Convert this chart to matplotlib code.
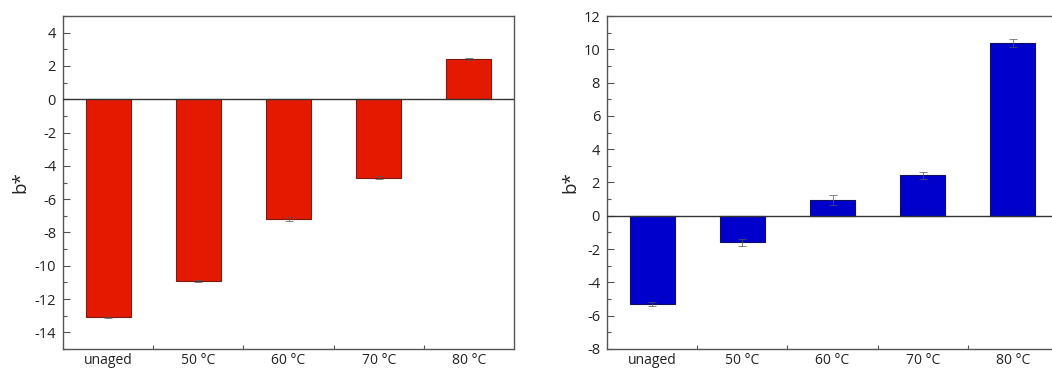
import matplotlib
matplotlib.use("Agg")
import matplotlib.pyplot as plt
from matplotlib.ticker import MultipleLocator, FixedLocator
import numpy as np

plt.rcParams['font.family'] = ['Open Sans', 'DejaVu Sans']
plt.rcParams['axes.unicode_minus'] = False

categories = ["unaged", "50 °C", "60 °C", "70 °C", "80 °C"]

left_values = [-13.1, -10.9, -7.2, -4.7, 2.4]
left_errors = [0.05, 0.05, 0.1, 0.1, 0.05]

right_values = [-5.3, -1.6, 0.95, 2.43, 10.4]
right_errors = [0.1, 0.2, 0.3, 0.2, 0.24]

W, H = 1052, 370
fig = plt.figure(figsize=(W / 100, H / 100), dpi=100)

spine_color = "#555555"


def panel(rect, values, errors, color, edge, ylim, ylabel_x):
    ax = fig.add_axes(rect)
    x = np.arange(len(categories))
    ax.bar(x, values, width=0.5, color=color, edgecolor=edge, linewidth=0.8,
           yerr=errors, ecolor="#555555", error_kw=dict(elinewidth=0.5, capsize=3, capthick=0.5),
           zorder=2)
    ax.axhline(0, color="#333333", linewidth=1.0, zorder=3)
    ax.set_xlim(-0.5, len(categories) - 0.5)
    ax.set_ylim(*ylim)
    ax.set_xticks(x)
    ax.set_xticklabels(categories)
    ax.xaxis.set_minor_locator(FixedLocator(x[:-1] + 0.5))
    ax.yaxis.set_major_locator(MultipleLocator(2))
    ax.yaxis.set_minor_locator(MultipleLocator(1))
    ax.tick_params(axis="x", which="major", length=0, pad=3, labelsize=10, colors="#222222")
    ax.tick_params(axis="x", which="minor", direction="in", length=3, width=0.8, color=spine_color)
    ax.tick_params(axis="y", which="major", direction="in", length=5, width=0.8,
                   color=spine_color, labelsize=10.5, labelcolor="#222222", pad=5)
    ax.tick_params(axis="y", which="minor", direction="in", length=3, width=0.8, color=spine_color)
    for s in ax.spines.values():
        s.set_color(spine_color)
        s.set_linewidth(1.0)
    ax.set_ylabel("b*", fontsize=13.5, color="#222222")
    ax.yaxis.set_label_coords(ylabel_x, 0.5)
    return ax


ax_w = 451 / W
ax_b = 21 / H
ax_h = 333 / H

panel([63 / W, ax_b, ax_w, ax_h], left_values, left_errors,
      "#E41A00", "#7a1a10", (-15, 5), -0.074)
panel([607 / W, ax_b, ax_w, ax_h], right_values, right_errors,
      "#0000CC", "#101060", (-8, 12), -0.061)

fig.savefig("out.png", dpi=100)
